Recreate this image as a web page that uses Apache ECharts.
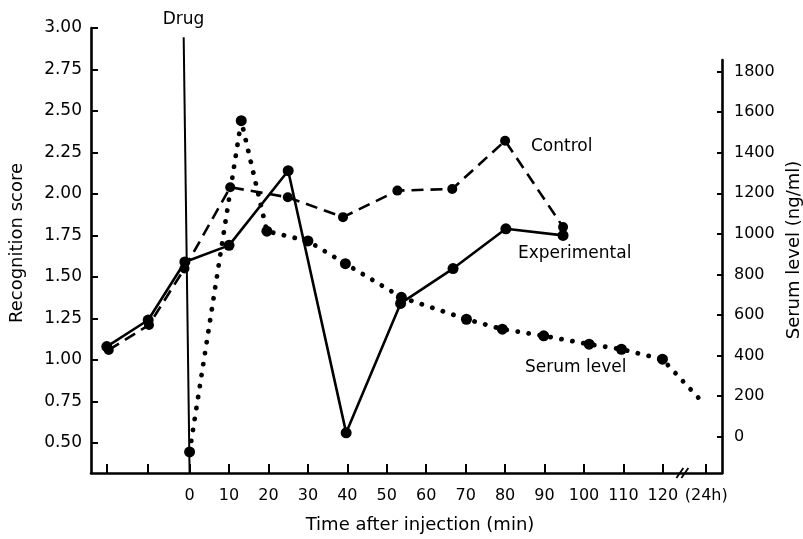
<!DOCTYPE html>
<html><head><meta charset="utf-8">
<script src="https://cdn.jsdelivr.net/npm/echarts@6/dist/echarts.min.js"></script>
<style>html,body{margin:0;padding:0;background:#fff}#c{width:803px;height:539px}</style>
</head><body><div id="c"></div>
<script>
// ---- data ----
const expTime   = [-21, -10.5, -1.2, 10, 25, 39.7, 53.5, 66.8, 80.2, 94.7];
const expScore  = [1.08, 1.24, 1.59, 1.69, 2.14, 0.56, 1.34, 1.55, 1.79, 1.75];
const ctrlTime  = [-20.5, -10.3, -1.3, 10.3, 24.9, 38.9, 52.7, 66.6, 80.0, 94.7];
const ctrlScore = [1.06, 1.21, 1.55, 2.04, 1.98, 1.86, 2.02, 2.03, 2.32, 1.80];
const serumTime  = [0, 13.1, 19.6, 30.0, 39.5, 53.7, 70.2, 79.3, 89.8, 101.3, 109.5, 119.9, 130.5];
const serumLevel = [-75, 1558, 1013, 965, 853, 687, 579, 530, 497, 456, 431, 382, 161];
const serumMarked = [1, 1, 1, 1, 1, 1, 1, 1, 1, 1, 1, 1, 0];
const drugTime  = [-1.5, 0];
const drugScore = [2.944, 0.318];
const xTickValues  = [-21, -10.5, 0, 10, 20, 30, 40, 50, 60, 70, 80, 90, 100, 110, 120, 131];
const xLabelValues = [0, 10, 20, 30, 40, 50, 60, 70, 80, 90, 100, 110, 120, 131];
const xLabelNames  = ['0','10','20','30','40','50','60','70','80','90','100','110','120','(24h)'];
const scoreTicks = [0.5, 0.75, 1.0, 1.25, 1.5, 1.75, 2.0, 2.25, 2.5, 2.75, 3.0];
const serumTicks = [0, 200, 400, 600, 800, 1000, 1200, 1400, 1600, 1800];
const breakAt = 124.7;

const FONT = '"DejaVu Sans", sans-serif';
const chart = echarts.init(document.getElementById('c'), null, {renderer: 'canvas'});

const pair = (xs, ys) => xs.map((x, i) => [x, ys[i]]);
const axisLine = {show: true, onZero: false, lineStyle: {color: '#000', width: 2.6}};

const option = {
  animation: false,
  backgroundColor: '#fff',
  grid: [
    {left: 91, right: 81, top: 28, bottom: 66},
    {left: 91, right: 81, top: 60, bottom: 66}
  ],
  xAxis: [
    {type: 'value', gridIndex: 0, min: -25, max: 135,
      axisLine: axisLine, splitLine: {show: false},
      axisTick: {show: true, inside: true, length: 9, customValues: xTickValues, lineStyle: {color: '#000', width: 2}},
      axisLabel: {show: true, customValues: xLabelValues, margin: 15, color: '#000', fontFamily: FONT, fontSize: 16,
        formatter: v => { const i = xLabelValues.indexOf(v); return i >= 0 ? xLabelNames[i] : ''; }}
    },
    {type: 'value', gridIndex: 1, min: -25, max: 135, show: false}
  ],
  yAxis: [
    {type: 'value', gridIndex: 0, min: 0.318, max: 3.0,
      axisLine: axisLine, splitLine: {show: false},
      axisTick: {show: true, inside: true, length: 7, customValues: scoreTicks, lineStyle: {color: '#000', width: 2}},
      axisLabel: {show: true, customValues: scoreTicks, margin: 9, color: '#000', fontFamily: FONT, fontSize: 17,
        formatter: v => v.toFixed(2)}
    },
    {type: 'value', gridIndex: 1, position: 'right', min: -179, max: 1857,
      axisLine: axisLine, splitLine: {show: false},
      axisTick: {show: true, inside: true, length: 5, customValues: serumTicks, lineStyle: {color: '#000', width: 2}},
      axisLabel: {show: true, customValues: serumTicks, margin: 12, color: '#000', fontFamily: FONT, fontSize: 16,
        formatter: v => String(v)}
    }
  ],
  series: [
    {name: 'Experimental', type: 'line', xAxisIndex: 0, yAxisIndex: 0,
      data: pair(expTime, expScore), symbol: 'circle', symbolSize: 11,
      lineStyle: {color: '#000', width: 2.6, type: 'solid'}, itemStyle: {color: '#000'}, z: 3,
      markLine: {silent: true, symbol: ['none', 'none'], animation: false,
        lineStyle: {color: '#000', width: 2, type: 'solid'},
        label: {show: true, position: 'start', distance: 9, formatter: 'Drug', color: '#000', fontFamily: FONT, fontSize: 17},
        data: [[{coord: [drugTime[0], drugScore[0]]}, {coord: [drugTime[1], drugScore[1]]}]]
      }
    },
    {name: 'Control', type: 'line', xAxisIndex: 0, yAxisIndex: 0,
      data: pair(ctrlTime, ctrlScore), symbol: 'circle', symbolSize: 10,
      lineStyle: {color: '#000', width: 2.6, type: [12, 7]}, itemStyle: {color: '#000'}, z: 3
    },
    {name: 'Serum level', type: 'line', xAxisIndex: 1, yAxisIndex: 1,
      data: serumTime.map((t, i) => ({value: [t, serumLevel[i]], symbol: serumMarked[i] ? 'circle' : 'none'})),
      symbolSize: 11,
      lineStyle: {color: '#000', width: 4.8, type: [0.1, 11], cap: 'round'}, itemStyle: {color: '#000'}, z: 2
    }
  ]
};
chart.setOption(option);

// annotations
const p = chart.convertToPixel({xAxisIndex: 0, yAxisIndex: 0}, [breakAt, 0.318]);
const txt = (text, x, y, size, align, rot) => ({
  type: 'text', x: x, y: y, rotation: rot || 0,
  style: {text: text, fill: '#000', font: size + 'px ' + FONT, textAlign: align, textVerticalAlign: 'middle', align: align, verticalAlign: 'middle'}
});
chart.setOption({
  graphic: [
    txt('Control', 531, 147, 17, 'left'),
    txt('Experimental', 518, 254, 17, 'left'),
    txt('Serum level', 525, 368, 17, 'left'),
    txt('Recognition score', 17.5, 243, 18, 'center', Math.PI / 2),
    txt('Serum level (ng/ml)', 794, 250, 18, 'center', Math.PI / 2),
    txt('Time after injection (min)', 420, 525, 18, 'center'),
    {type: 'line', shape: {x1: p[0] - 5, y1: p[1] + 5, x2: p[0] + 2, y2: p[1] - 5}, style: {stroke: '#000', lineWidth: 1.8}},
    {type: 'line', shape: {x1: p[0] + 0, y1: p[1] + 5, x2: p[0] + 7, y2: p[1] - 5}, style: {stroke: '#000', lineWidth: 1.8}}
  ]
});
</script>
</body></html>
